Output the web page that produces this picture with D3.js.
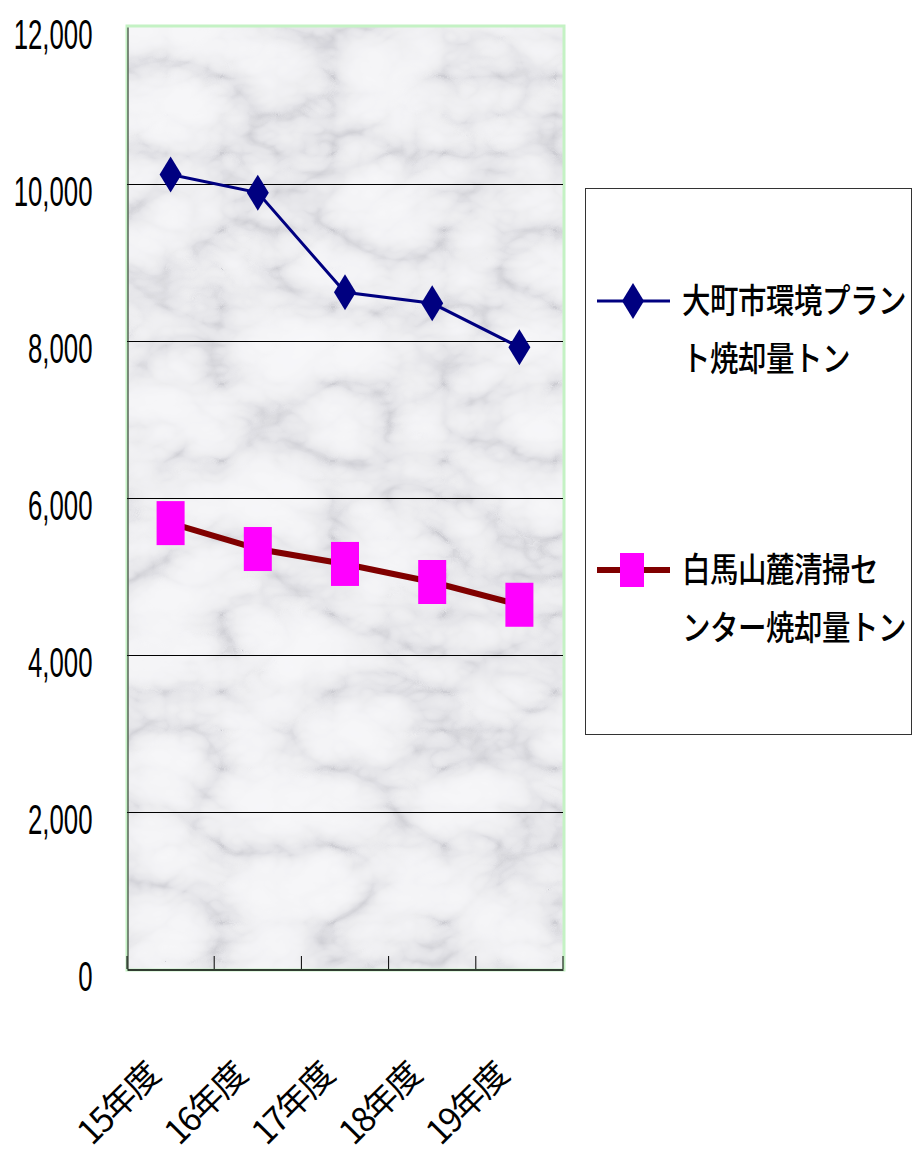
<!DOCTYPE html>
<html><head><meta charset="utf-8">
<script src="https://cdn.jsdelivr.net/npm/d3@7"></script>
<style>html,body{margin:0;padding:0;background:#fff;}svg{display:block;}</style>
</head><body>
<script>
const categories = ["15年度","16年度","17年度","18年度","19年度"];
const omachiValues = [10120, 9890, 8620, 8480, 7920];
const hakubaValues = [5680, 5350, 5160, 4930, 4640];
const yTickValues = [0, 2000, 4000, 6000, 8000, 10000, 12000];
const seriesNames = ["大町市環境プラント焼却量トン", "白馬山麓清掃センター焼却量トン"];
const legendLines = [["大町市環境プラン","ト焼却量トン"],["白馬山麓清掃セ","ンター焼却量トン"]];

const W = 916, H = 1156;
const L = 127, R = 563, T = 27, B = 969;
const svg = d3.select("body").append("svg").attr("width", W).attr("height", H);
const defs = svg.append("defs");
const f = defs.append("filter").attr("id","marble").attr("x",0).attr("y",0).attr("width",1).attr("height",1);
f.append("feTurbulence").attr("type","turbulence").attr("baseFrequency","0.009 0.013").attr("numOctaves",4).attr("seed",11).attr("result","n");
f.append("feColorMatrix").attr("in","n").attr("type","matrix")
  .attr("values","1 0 0 0 0  1 0 0 0 0  1 0 0 0 0  0 0 0 0 1").attr("result","g");
const ct = f.append("feComponentTransfer").attr("in","g");
ct.append("feFuncR").attr("type","table").attr("tableValues","0.62 0.78 0.86 0.9 0.92 0.93 0.94");
ct.append("feFuncG").attr("type","table").attr("tableValues","0.62 0.78 0.86 0.9 0.92 0.93 0.94");
ct.append("feFuncB").attr("type","table").attr("tableValues","0.66 0.81 0.88 0.92 0.94 0.95 0.96");

const x = d3.scaleBand().domain(categories).range([L, R]);
const y = d3.scaleLinear().domain([0, 12000]).range([B, T]);

// plot background
svg.append("rect").attr("x",L).attr("y",T).attr("width",R-L).attr("height",B-T).attr("fill","#e2e2e6");
svg.append("rect").attr("x",L).attr("y",T).attr("width",R-L).attr("height",B-T).attr("filter","url(#marble)");
// green border
svg.append("rect").attr("x",L).attr("y",T-1).attr("width",R-L+1).attr("height",B-T+2)
  .attr("fill","none").attr("stroke","#c4f2c4").attr("stroke-width",3);

// gridlines
svg.append("g").selectAll("line").data(yTickValues.filter(v=>v>0 && v<12000)).join("line")
  .attr("x1",L).attr("x2",R).attr("y1",d=>Math.round(y(d))+0.5).attr("y2",d=>Math.round(y(d))+0.5)
  .attr("stroke","#000").attr("stroke-width",1);

// y axis
const yAxis = svg.append("g").attr("transform",`translate(${L+0.5},0)`)
  .call(d3.axisLeft(y).tickValues(yTickValues).tickFormat(d3.format(",")).tickSize(0).tickPadding(0));
yAxis.select(".domain").attr("stroke","#222").attr("stroke-width",1);
yAxis.selectAll(".tick").attr("transform",null);
yAxis.selectAll("text").each(function(d){
  d3.select(this).attr("x",null).attr("dy",null).attr("y",0).attr("text-anchor","end")
   .attr("font-family","'Liberation Sans', Arial, sans-serif").attr("font-size",43).attr("fill","#000")
   .attr("transform",`translate(${92-L},${y(d)+22}) scale(0.6,1)`);
});

// x axis
const xAxis = svg.append("g").attr("transform",`translate(0,${B+0.5})`)
  .call(d3.axisBottom(x).tickSize(0).tickFormat(""));
xAxis.select(".domain").attr("stroke","#000").attr("stroke-width",1.5);
const bounds = categories.map(c=>x(c)).concat([R]);
svg.append("g").selectAll("line").data(bounds).join("line")
  .attr("x1",d=>d).attr("x2",d=>d).attr("y1",B).attr("y2",B-13).attr("stroke","#000").attr("stroke-width",1);

svg.append("g").selectAll("text").data(categories).join("text")
  .attr("transform",d=>`translate(${x(d)+x.bandwidth()/2-44},${1112}) rotate(-45)`)
  .attr("text-anchor","middle")
  .attr("font-family","'Noto Sans CJK JP', sans-serif").attr("font-size",34).attr("fill","#000")
  .attr("letter-spacing",-2)
  .text(d=>d);

const cx = d => x(d) + x.bandwidth()/2;

// series 1 line
const line1 = d3.line().x((d,i)=>cx(categories[i])).y(d=>y(d));
svg.append("path").datum(omachiValues).attr("d",line1).attr("fill","none").attr("stroke","#000080").attr("stroke-width",3);
const diamond = (w,h)=>`M0,${-h/2}L${w/2},0L0,${h/2}L${-w/2},0Z`;
svg.append("g").selectAll("path").data(omachiValues).join("path")
  .attr("transform",(d,i)=>`translate(${cx(categories[i])},${y(d)})`)
  .attr("d",diamond(22,36)).attr("fill","#000080");

// series 2 line
svg.append("path").datum(hakubaValues).attr("d",line1).attr("fill","none").attr("stroke","#800000").attr("stroke-width",6);
svg.append("g").selectAll("rect").data(hakubaValues).join("rect")
  .attr("x",(d,i)=>cx(categories[i])-14).attr("y",d=>y(d)-22).attr("width",28).attr("height",44)
  .attr("fill","#ff00ff");

// legend
svg.append("rect").attr("x",585.5).attr("y",188.5).attr("width",326).attr("height",546)
  .attr("fill","#fff").attr("stroke","#333").attr("stroke-width",1);
const lg = svg.append("g");
const entryY = [301, 570];
lg.append("line").attr("x1",597).attr("x2",670).attr("y1",entryY[0]).attr("y2",entryY[0]).attr("stroke","#000080").attr("stroke-width",3);
lg.append("path").attr("transform",`translate(633,${entryY[0]})`).attr("d",diamond(22,36)).attr("fill","#000080");
lg.append("line").attr("x1",597).attr("x2",670).attr("y1",entryY[1]).attr("y2",entryY[1]).attr("stroke","#800000").attr("stroke-width",6);
lg.append("rect").attr("x",620).attr("y",entryY[1]-17).attr("width",24).attr("height",34).attr("fill","#ff00ff");
legendLines.forEach((lines,k)=>{
  lines.forEach((s,j)=>{
    lg.append("text").attr("transform",`translate(682,${entryY[k]+12+j*58}) scale(1,1.2)`)
      .attr("font-family","'Noto Sans CJK JP', sans-serif").attr("font-size",28.5).attr("font-weight",500).attr("fill","#000")
      .attr("letter-spacing",-0.5).text(s);
  });
});
</script>
</body></html>
